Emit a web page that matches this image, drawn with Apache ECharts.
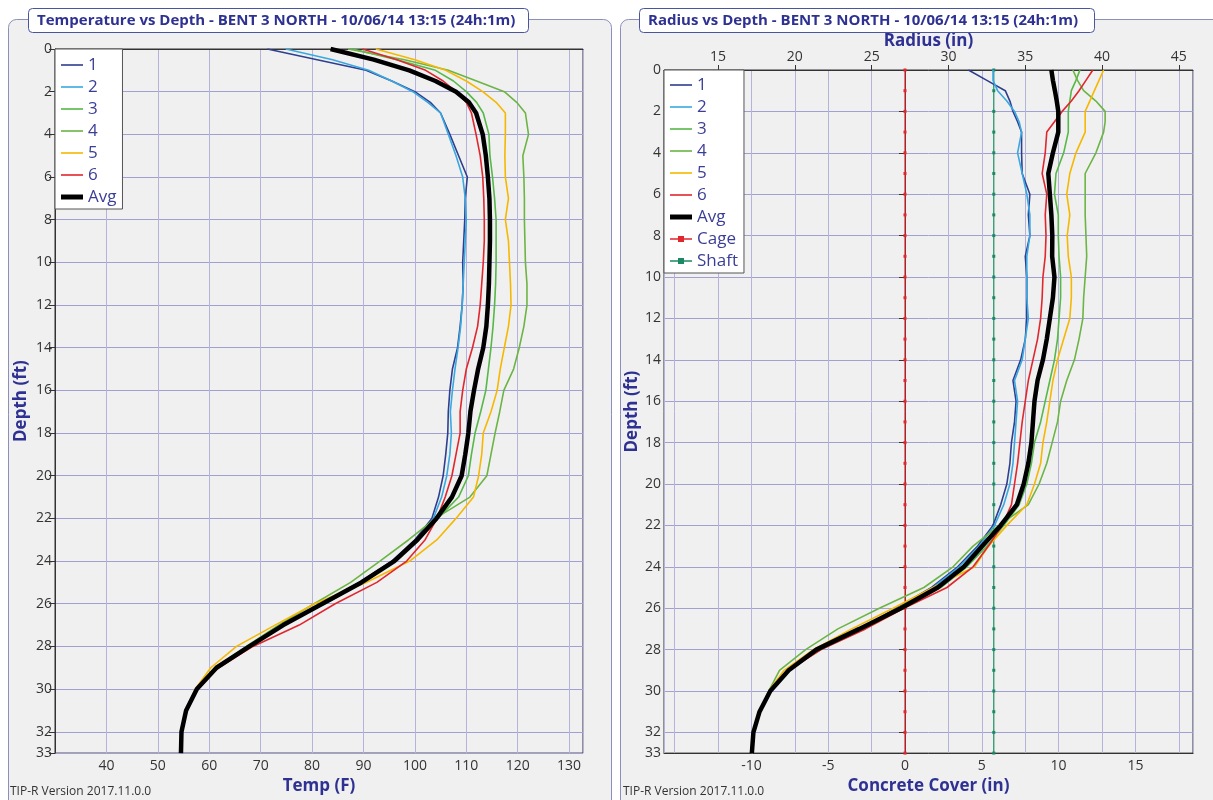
<!DOCTYPE html>
<html>
<head>
<meta charset="utf-8">
<script src="https://cdn.jsdelivr.net/npm/echarts@6/dist/echarts.min.js"></script>
<style>
html, body { margin: 0; padding: 0; background: #fff; }
#chart { width: 1213px; height: 800px; }
</style>
</head>
<body>
<div id="chart"></div>
<script>
// depth (ft) of each reading
const depths = [0, 0.5, 1, 1.5, 2, 2.5, 3, 4, 5, 6, 7, 8, 9, 10, 11, 12, 13, 14, 15, 16, 17, 18, 19, 20, 21, 22, 23, 24, 25, 26, 27, 28, 29, 30, 31, 32, 33];

// temperature (F) per wire
const temp1 = [71.3, 81, 90.5, 95.5, 100, 103, 105, 106.8, 108.5, 110.2, 109.8, 109.7, 109.5, 109.3, 109.4, 109.2, 108.8, 108.3, 107.3, 106.8, 106.5, 106.4, 106, 105.5, 104.6, 103.3, 100, 95.5, 89.2, 81.8, 74, 67.6, 61.3, 57.6, 55.5, 54.6, 54.5];
const temp2 = [74.9, 84, 91, 95.5, 99.6, 102.5, 105, 106.5, 108, 109.3, 109.8, 110, 109.8, 109.6, 109.4, 109.2, 108.9, 108.4, 107.8, 107.3, 106.9, 107.1, 106.8, 106.2, 105.2, 103.6, 100.4, 95.8, 89.6, 82, 74, 67.5, 61.3, 57.5, 55.5, 54.6, 54.5];
const temp3 = [87.9, 96.5, 104, 107.5, 110, 112, 113.3, 114.4, 114.6, 115.1, 115.5, 115.8, 115.8, 115.8, 115.7, 115.5, 115.2, 114.8, 114.3, 113.8, 112.8, 111.7, 111, 110.4, 108.5, 104.5, 100.6, 96, 90, 82.5, 74.2, 67.6, 61.3, 57.6, 55.5, 54.6, 54.5];
const temp4 = [87, 98, 106.5, 112, 117.4, 119.8, 121.5, 122.1, 121, 121.2, 121.3, 121.3, 121.4, 121.5, 121.8, 121.8, 121.2, 120.3, 119.2, 117.3, 116.5, 115.6, 114.8, 114, 110.7, 104, 98.8, 93.2, 87.5, 80.4, 73.5, 67.2, 61.2, 57.5, 55.5, 54.6, 54.5];
const temp5 = [92.4, 100, 106, 110, 113.2, 115.8, 117.6, 117.6, 117.5, 117.6, 118.2, 117.6, 118.2, 118.4, 118.6, 118.7, 118.2, 117.4, 116.6, 116, 114.8, 113.3, 113, 112.4, 111.4, 108, 104.3, 99, 90.5, 80.5, 72.8, 65.3, 60.3, 57.3, 55.4, 54.6, 54.5];
const temp6 = [89.8, 96.5, 102.1, 105.5, 108, 110, 111, 111.9, 112.7, 113.2, 113.4, 113.5, 113.5, 113.3, 113, 112.7, 112.2, 111.2, 110, 109.3, 108.8, 108.8, 108, 107.2, 105.9, 104.3, 102, 98.4, 92.6, 84.5, 77.5, 68.5, 61.8, 57.8, 55.6, 54.7, 54.5];
const tempAvg = [83.6, 92, 98.9, 104, 108, 110.5, 111.9, 113.2, 113.8, 114.2, 114.5, 114.6, 114.6, 114.5, 114.4, 114.2, 113.9, 113.3, 112.3, 111.5, 110.8, 110.4, 109.8, 109.1, 107.2, 104.2, 100.5, 96, 89.6, 82, 74.4, 67.8, 61.4, 57.6, 55.5, 54.6, 54.5];

// radius (in) per wire
const rad1 = [31.3, 32.5, 33.7, 34.0, 34.2, 34.5, 34.76, 34.76, 34.8, 35.3, 35.2, 35.3, 35.0, 35.1, 35.1, 35.1, 35.0, 34.7, 34.2, 34.4, 34.3, 34.1, 34.0, 33.8, 33.4, 32.9, 31.9, 30.6, 28.9, 26.6, 24.3, 21.6, 19.5, 18.4, 17.7, 17.3, 17.2];
const rad2 = [32.9, 32.9, 33.2, 33.8, 34.3, 34.6, 34.76, 34.5, 34.8, 35.1, 35.3, 35.3, 35.1, 35.1, 35.1, 35.2, 35.0, 34.8, 34.3, 34.5, 34.4, 34.3, 34.2, 34.0, 33.6, 33.0, 32.0, 30.7, 29.0, 26.7, 24.3, 21.6, 19.5, 18.4, 17.7, 17.3, 17.2];
const rad3 = [38.56, 38.3, 38.0, 37.9, 37.8, 37.8, 37.8, 37.5, 37.0, 36.9, 37.15, 37.15, 37.2, 37.3, 37.3, 37.2, 37.1, 36.9, 36.6, 36.3, 36.0, 35.6, 35.4, 35.1, 34.6, 33.6, 32.5, 31.2, 29.5, 27.0, 24.5, 21.7, 19.5, 18.4, 17.7, 17.3, 17.2];
const rad4 = [38.1, 38.4, 38.8, 39.6, 40.2, 40.2, 40.1, 39.6, 38.9, 38.9, 38.9, 38.95, 39.0, 38.9, 38.8, 38.75, 38.5, 38.2, 37.7, 37.3, 37.1, 36.75, 36.4, 35.9, 35.2, 33.3, 31.6, 30.3, 28.4, 25.5, 22.8, 20.7, 19.0, 18.3, 17.7, 17.3, 17.2];
const rad5 = [40.1, 39.8, 39.5, 39.2, 38.9, 38.9, 38.9, 38.3, 37.9, 37.7, 37.9, 37.73, 37.8, 38.0, 38.0, 37.9, 37.5, 37.1, 36.8, 36.6, 36.4, 36.15, 36.0, 35.6, 35.1, 33.8, 32.6, 31.7, 29.0, 26.4, 23.7, 21.2, 19.3, 18.3, 17.7, 17.3, 17.2];
const rad6 = [39.4, 38.95, 38.5, 38.0, 37.4, 36.9, 36.4, 36.3, 36.1, 36.4, 36.3, 36.35, 36.3, 36.15, 36.1, 36.0, 35.8, 35.5, 35.2, 35.0, 34.8, 34.65, 34.5, 34.3, 34.1, 33.5, 32.6, 31.6, 29.9, 27.1, 24.6, 21.7, 19.6, 18.4, 17.7, 17.3, 17.2];
const radAvg = [36.7, 36.8, 36.93, 37.05, 37.15, 37.15, 37.15, 36.8, 36.5, 36.6, 36.7, 36.76, 36.75, 36.9, 36.8, 36.6, 36.4, 36.15, 35.8, 35.6, 35.5, 35.4, 35.2, 34.9, 34.45, 33.4, 32.2, 31.0, 29.3, 26.9, 24.2, 21.4, 19.6, 18.4, 17.7, 17.3, 17.2];

// cage and shaft reference lines
const refDepths = [0, 1, 2, 3, 4, 5, 6, 7, 8, 9, 10, 11, 12, 13, 14, 15, 16, 17, 18, 19, 20, 21, 22, 23, 24, 25, 26, 27, 28, 29, 30, 31, 32, 33];
const cageRadius = 27.17;
const shaftRadius = 32.95;

const names = ['1', '2', '3', '4', '5', '6', 'Avg'];
const colors = ['#2f3f8f', '#3aa8e0', '#56b848', '#6cb444', '#f5b800', '#e1262d', '#000000'];
const tempData = [temp1, temp2, temp3, temp4, temp5, temp6, tempAvg];
const radData = [rad1, rad2, rad3, rad4, rad5, rad6, radAvg];

const FONT = '"Open Sans", "Noto Sans", sans-serif';
const NAVY = '#2e3192';

const pts = (xs, ds) => xs.map((v, i) => [v, ds[i]]);
const mult5 = v => Math.abs(v - Math.round(v / 5) * 5) < 1e-6;

const lineIcon = 'path://M0,0H22V1.6H0Z';
const avgIcon = 'path://M0,0H22V5H0Z';
const markIcon = 'path://M0,5.2H22V6.8H0Z M8,3H14V9H8Z';

function legendData(withRef) {
  const d = names.map(n => ({ name: n, icon: n === 'Avg' ? avgIcon : lineIcon }));
  if (withRef) {
    d.push({ name: 'Cage', icon: markIcon });
    d.push({ name: 'Shaft', icon: markIcon });
  }
  return d;
}

function legend(left, top, pad, withRef) {
  return {
    orient: 'vertical', left: left, top: top,
    itemWidth: 22, itemHeight: 14, itemGap: 4,
    padding: pad,
    backgroundColor: '#fff', borderColor: '#555', borderWidth: 1, borderRadius: 0,
    selectedMode: false,
    itemStyle: { borderWidth: 0 },
    textStyle: { color: '#3b3e96', fontSize: 17, fontFamily: FONT, lineHeight: 18 },
    data: legendData(withRef)
  };
}

const axisLabel = { color: '#333', fontSize: 14, fontFamily: FONT };
const nameStyle = { color: NAVY, fontSize: 17, fontWeight: 'bold', fontFamily: FONT };
const vLine = { lineStyle: { color: '#b4b4da', width: 1 } };
const hLine = { lineStyle: { color: '#a0a0d2', width: 1 } };

const series = [];
names.forEach((n, i) => {
  const w = n === 'Avg' ? 4.5 : 1.6;
  const base = {
    name: n, type: 'line', symbol: 'none', smooth: false, z: n === 'Avg' ? 4 : 3,
    lineStyle: { color: colors[i], width: w },
    itemStyle: { color: colors[i] },
    emphasis: { disabled: true }
  };
  series.push(Object.assign({}, base, { xAxisIndex: 0, yAxisIndex: 0, data: pts(tempData[i], depths) }));
  series.push(Object.assign({}, base, { xAxisIndex: 1, yAxisIndex: 1, data: pts(radData[i], depths) }));
});
series.push({
  name: 'Cage', type: 'line', xAxisIndex: 1, yAxisIndex: 1, z: 2,
  symbol: 'rect', symbolSize: 3, showSymbol: true,
  lineStyle: { color: '#e1262d', width: 1.2 }, itemStyle: { color: '#e1262d' },
  emphasis: { disabled: true },
  data: refDepths.map(d => [cageRadius, d])
});
series.push({
  name: 'Shaft', type: 'line', xAxisIndex: 1, yAxisIndex: 1, z: 2,
  symbol: 'rect', symbolSize: 3, showSymbol: true,
  lineStyle: { color: '#1b8a62', width: 1.2 }, itemStyle: { color: '#1b8a62' },
  emphasis: { disabled: true },
  data: refDepths.map(d => [shaftRadius, d])
});

const chart = echarts.init(document.getElementById('chart'));
chart.setOption({
  animation: false,
  backgroundColor: '#fff',
  graphic: [
    { type: 'rect', z: -10, shape: { x: 8.5, y: 19.5, width: 603, height: 800, r: 8 }, style: { fill: '#f0f0f0', stroke: '#8b90bb', lineWidth: 1 } },
    { type: 'rect', z: -10, shape: { x: 620.5, y: 19.5, width: 610, height: 800, r: 8 }, style: { fill: '#f0f0f0', stroke: '#8b90bb', lineWidth: 1 } },
    { type: 'rect', z: 50, shape: { x: 28.5, y: 8.5, width: 500, height: 24, r: 4 }, style: { fill: '#fff', stroke: '#4a55a0', lineWidth: 1 } },
    { type: 'rect', z: 50, shape: { x: 639.5, y: 8.5, width: 455, height: 24, r: 4 }, style: { fill: '#fff', stroke: '#4a55a0', lineWidth: 1 } },
    { type: 'text', z: 51, x: 37, y: 20.5, style: { text: 'Temperature vs Depth - BENT 3 NORTH - 10/06/14 13:15 (24h:1m)', fill: NAVY, font: 'bold 15px ' + FONT, verticalAlign: 'middle' } },
    { type: 'text', z: 51, x: 648, y: 20.5, style: { text: 'Radius vs Depth - BENT 3 NORTH - 10/06/14 13:15 (24h:1m)', fill: NAVY, font: 'bold 15px ' + FONT, verticalAlign: 'middle' } },
    { type: 'text', z: 51, x: 10, y: 792, style: { text: 'TIP-R Version 2017.11.0.0', fill: '#333', font: '12px ' + FONT, verticalAlign: 'middle' } },
    { type: 'text', z: 51, x: 623, y: 792, style: { text: 'TIP-R Version 2017.11.0.0', fill: '#333', font: '12px ' + FONT, verticalAlign: 'middle' } }
  ],
  legend: [
    legend(55, 49, [7, 6, 3, 6], false),
    legend(664, 70, [6, 6, 3, 6], true)
  ],
  grid: [
    { left: 55, top: 49, width: 528, height: 709, show: true, backgroundColor: '#f0f0f0', borderColor: '#333', borderWidth: 1 },
    { left: 664, top: 70, width: 529, height: 688, show: true, backgroundColor: '#f0f0f0', borderColor: '#333', borderWidth: 1 }
  ],
  xAxis: [
    {
      gridIndex: 0, type: 'value', position: 'bottom', min: 30, max: 132.7, interval: 10,
      name: 'Temp (F)', nameLocation: 'middle', nameGap: 20, nameTextStyle: nameStyle,
      axisLine: { show: true, lineStyle: { color: '#333' } }, axisTick: { show: false },
      axisLabel: Object.assign({ margin: 6, showMinLabel: false, showMaxLabel: false, formatter: v => (v >= 40 && v <= 130 && v % 10 === 0 ? String(v) : '') }, axisLabel),
      splitLine: vLine
    },
    {
      gridIndex: 1, type: 'value', position: 'top', min: 11.48, max: 45.92,
      name: 'Radius (in)', nameLocation: 'middle', nameGap: 20, nameMoveOverlap: false, nameTextStyle: nameStyle,
      axisLine: { show: true, lineStyle: { color: '#333' } }, axisTick: { show: true, length: 5, lineStyle: { color: '#333' } },
      axisLabel: Object.assign({ margin: 6, showMinLabel: false, showMaxLabel: false, formatter: v => (mult5(v) ? String(Math.round(v)) : '') }, axisLabel),
      splitLine: vLine
    },
    {
      gridIndex: 1, type: 'value', position: 'bottom', min: 11.48 - cageRadius, max: 45.92 - cageRadius,
      name: 'Concrete Cover (in)', nameLocation: 'middle', nameGap: 20, nameTextStyle: nameStyle,
      axisLine: { show: true, lineStyle: { color: '#333' } }, axisTick: { show: false },
      axisLabel: Object.assign({ margin: 6, showMinLabel: false, showMaxLabel: false, formatter: v => (mult5(v) && v > -12 ? String(Math.round(v)) : '') }, axisLabel),
      splitLine: vLine
    }
  ],
  yAxis: [
    {
      gridIndex: 0, type: 'value', inverse: true, min: 0, max: 33, interval: 2,
      name: 'Depth (ft)', nameLocation: 'middle', nameGap: 25, nameTextStyle: nameStyle,
      axisLine: { show: true, lineStyle: { color: '#333' } }, axisTick: { show: true, length: 6, lineStyle: { color: '#333' } },
      axisLabel: Object.assign({ margin: 3 }, axisLabel),
      splitLine: hLine
    },
    {
      gridIndex: 1, type: 'value', inverse: true, min: 0, max: 33, interval: 2,
      name: 'Depth (ft)', nameLocation: 'middle', nameGap: 23, nameTextStyle: nameStyle,
      axisLine: { show: true, lineStyle: { color: '#333' } }, axisTick: { show: true, length: 6, lineStyle: { color: '#333' } },
      axisLabel: Object.assign({ margin: 3 }, axisLabel),
      splitLine: hLine
    }
  ],
  series: series
});
</script>
</body>
</html>
